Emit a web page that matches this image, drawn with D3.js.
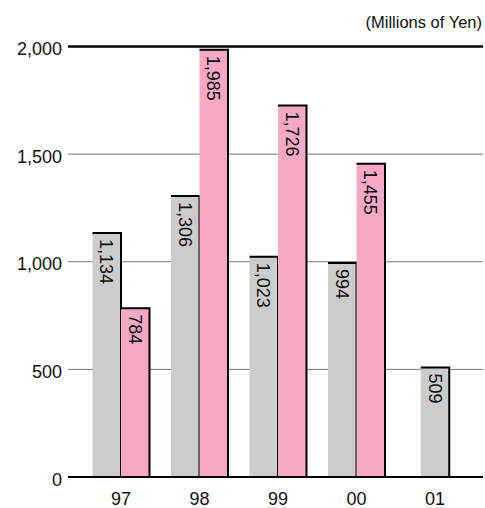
<!DOCTYPE html>
<html>
<head>
<meta charset="utf-8">
<script src="https://cdn.jsdelivr.net/npm/d3@7"></script>
<style>
  html, body { margin: 0; padding: 0; background: #fff; }
  svg { display: block; font-family: "Liberation Sans", Arial, sans-serif; }
</style>
</head>
<body>
<svg id="chart" width="485" height="508"></svg>
<script>
// Fiscal years and the two series (millions of yen)
const years = ["97", "98", "99", "00", "01"];
const seriesGray = [1134, 1306, 1023, 994, 509];
const seriesPink = [784, 1985, 1726, 1455, null];
const yTicks = [0, 500, 1000, 1500, 2000];
const unitLabel = "(Millions of Yen)";

(function draw() {
  const svg = d3.select("#chart");
  const plotLeft = 68, plotRight = 483, plotTop = 46.5, plotBottom = 477;
  const fontSize = 18;

  const x = d3.scaleBand().domain(years).range([81.75, 474.25])
    .paddingInner(0.274).paddingOuter(0.137);
  const y = d3.scaleLinear().domain([0, 2000]).range([plotBottom, plotTop]);

  // Grid lines
  svg.append("g").selectAll("line").data(yTicks.filter(d => d > 0 && d < 2000)).join("line")
    .attr("x1", plotLeft).attr("x2", plotRight)
    .attr("y1", d => y(d)).attr("y2", d => y(d))
    .attr("stroke", "#777").attr("stroke-width", 1);

  svg.append("line").attr("x1", plotLeft).attr("x2", plotRight)
    .attr("y1", y(2000)).attr("y2", y(2000))
    .attr("stroke", "#000").attr("stroke-width", 2.5);

  // Y tick labels
  svg.append("g").selectAll("text").data(yTicks).join("text")
    .attr("x", 62).attr("y", d => y(d) + 8.5)
    .attr("text-anchor", "end").attr("font-size", fontSize).attr("fill", "#111")
    .text(d => d3.format(",")(d));

  // Unit label
  svg.append("text").attr("x", 482).attr("y", 28).attr("text-anchor", "end")
    .attr("font-size", 16.5).attr("fill", "#111").text(unitLabel);

  // Bars
  const rows = [];
  years.forEach((yr, i) => {
    const bw = x.bandwidth() / 2;
    const hasPink = seriesPink[i] != null;
    const gx = hasPink ? x(yr) : x(yr) + bw / 2;
    rows.push({ yr, v: seriesGray[i], x0: gx, w: bw, fill: "#cccccc" });
    if (hasPink) rows.push({ yr, v: seriesPink[i], x0: x(yr) + bw, w: bw, fill: "#f5a9c5" });
  });

  const bars = svg.append("g").selectAll("g").data(rows).join("g");
  bars.append("rect")
    .attr("x", d => d.x0).attr("y", d => y(d.v))
    .attr("width", d => d.w).attr("height", d => plotBottom - y(d.v))
    .attr("fill", d => d.fill);
  // top and right edges
  bars.append("path")
    .attr("d", d => `M${d.x0},${y(d.v)}H${d.x0 + d.w}V${plotBottom}`)
    .attr("fill", "none").attr("stroke", "#000").attr("stroke-width", 2);

  // Value labels, rotated reading downward
  bars.append("text")
    .attr("transform", d => `translate(${d.x0 + d.w / 2 - 6.5},${y(d.v) + 6}) rotate(90)`)
    .attr("font-size", fontSize).attr("fill", "#111")
    .text(d => d3.format(",")(d.v));

  // Baseline
  svg.append("line").attr("x1", plotLeft).attr("x2", plotRight)
    .attr("y1", plotBottom).attr("y2", plotBottom)
    .attr("stroke", "#000").attr("stroke-width", 2);

  // Category labels
  svg.append("g").selectAll("text").data(years).join("text")
    .attr("x", d => x(d) + x.bandwidth() / 2).attr("y", 505)
    .attr("text-anchor", "middle").attr("font-size", fontSize).attr("fill", "#111")
    .text(d => d);
})();
</script>
</body>
</html>
